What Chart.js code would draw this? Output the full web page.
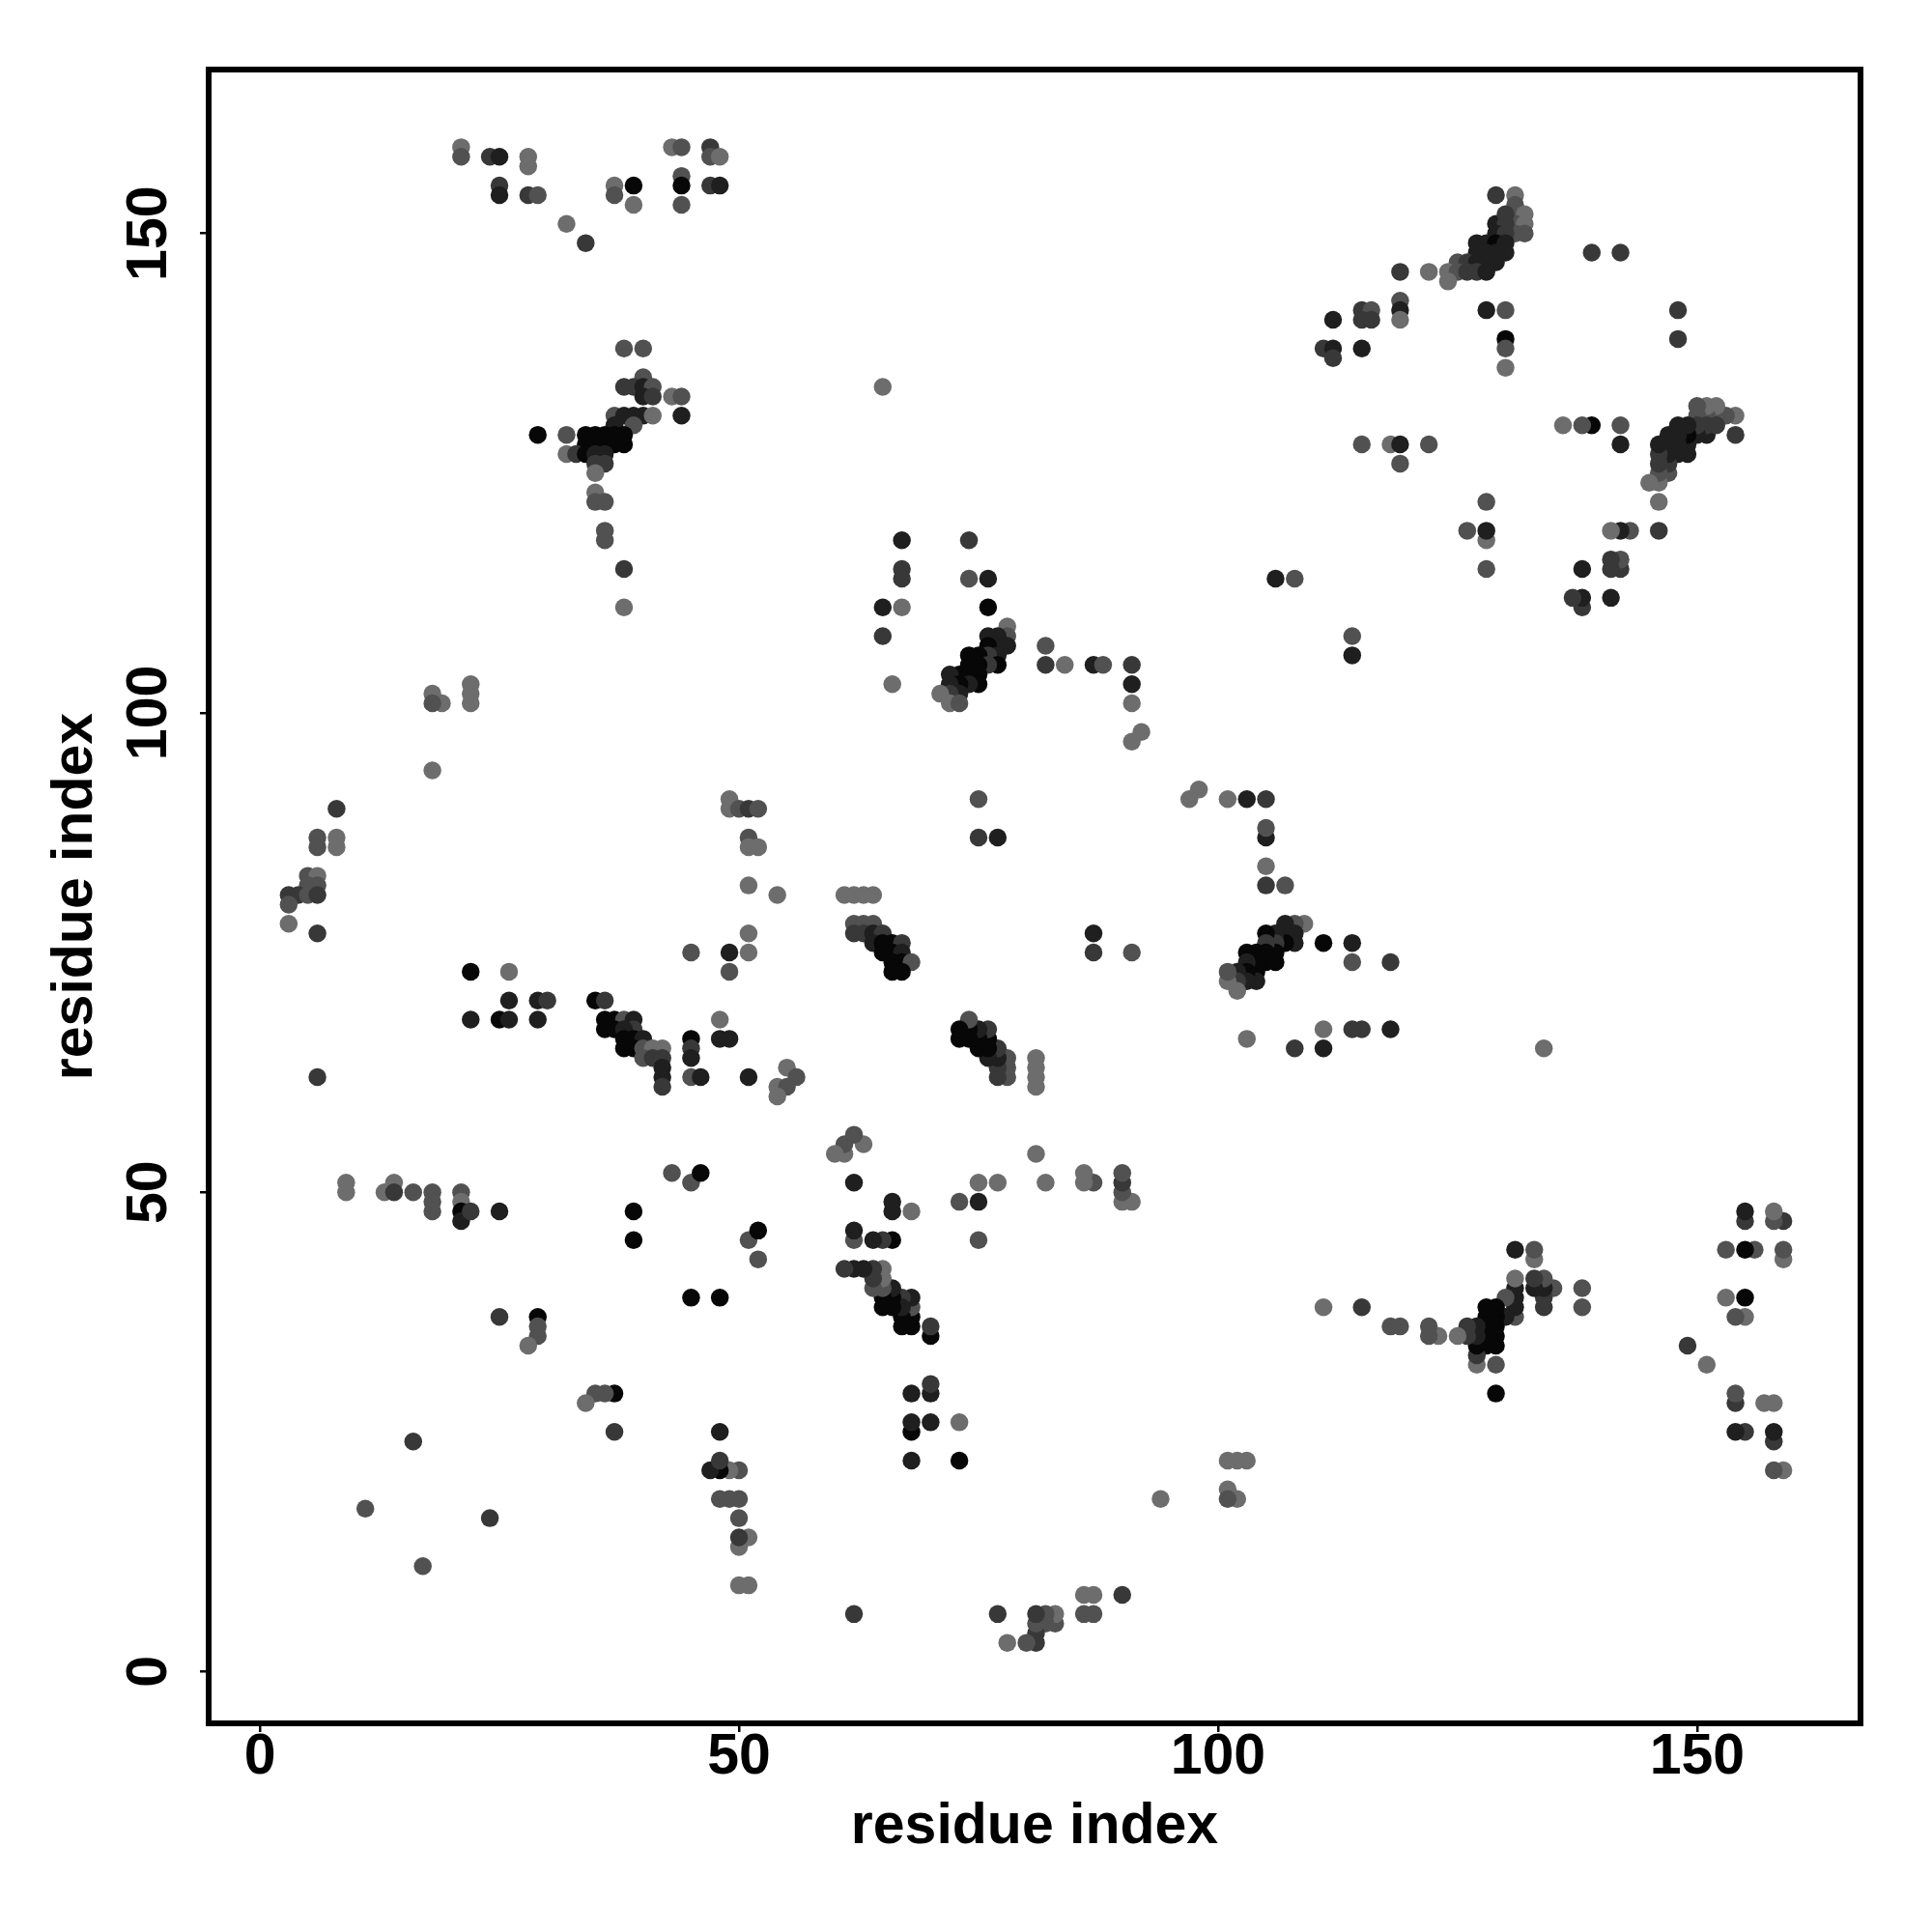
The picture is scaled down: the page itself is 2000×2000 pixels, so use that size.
<!DOCTYPE html>
<html>
<head>
<meta charset="utf-8">
<script src="https://cdn.jsdelivr.net/npm/chart.js@4.4.0/dist/chart.umd.min.js"></script>
<style>
  html, body { margin: 0; padding: 0; background: #fff; }
  canvas { display: block; }
</style>
</head>
<body>
<canvas id="contactChart" width="2000" height="2000"></canvas>
<script>
// axis ticks and title
const tickValues = [0, 50, 100, 150];
const axisTitle = 'residue index';

// contacts as [residue i, residue j, shade] with i < j
// shade: 0 = strongest (black) ... 4 = weakest (light grey)
const topRow = [
  [21,159,4],[21,158,3],[24,158,2],[25,158,1],[28,158,4],[28,157,4],[25,155,2],[25,154,1],
  [28,154,2],[29,154,3],[32,151,4],[34,149,2],[37,155,4],[37,154,3],[39,155,0],[39,153,4],
  [43,159,4],[44,159,3],[44,156,3],[44,155,0],[44,153,3],[47,159,2],[47,158,3],[48,158,4],
  [47,155,2],[48,155,1]
];

const sheet35x128 = [
  [38,138,3],[40,138,3],[40,135,3],[38,134,2],[39,134,2],[40,134,1],[41,134,3],[40,133,1],
  [41,133,2],[43,133,4],[44,133,3],[44,131,1],[37,131,3],[38,131,1],[39,131,1],[40,131,1],
  [41,131,4],[39,130,3],[37,130,1],[29,129,0],[32,129,3],[34,129,0],[35,129,0],[36,129,0],
  [37,129,0],[38,129,0],[34,128,0],[35,128,0],[36,128,0],[37,128,0],[38,128,0],[32,127,4],
  [33,127,2],[34,127,0],[35,127,1],[36,127,1],[35,126,2],[36,126,2],[35,125,4],[35,123,4],
  [35,122,3],[36,122,3],[36,119,3],[36,118,3],[38,115,2],[38,111,4]
];

const block65x115 = [
  [65,134,4],[67,118,1],[74,118,2],[67,115,2],[67,114,2],[74,114,3],[76,114,1],[65,111,1],
  [67,111,4],[76,111,0],[106,114,1],[108,114,3],[65,108,2],[66,103,4],[78,109,4]
];

const sheet75x105 = [
  [78,108,3],[77,108,1],[76,108,1],[78,107,1],[77,107,1],[76,107,0],[77,106,1],[76,106,2],
  [75,106,0],[74,106,0],[77,105,0],[76,105,2],[75,105,0],[74,105,0],[75,104,0],[74,104,0],
  [73,104,0],[72,104,1],[75,103,0],[74,103,1],[73,103,0],[72,103,1],[73,102,1],[72,102,2],
  [71,102,4],[72,101,4],[73,101,3]
];

const loop85x100 = [
  [82,107,3],[82,105,2],[84,105,4],[87,105,1],[88,105,3],[91,105,2],[91,103,1],[91,101,4],
  [91,97,4],[92,98,4],[75,91,3],[75,87,2],[77,87,1]
];

const sheet65x76 = [
  [54,81,4],[61,81,4],[62,81,4],[63,81,4],[64,81,4],
  [62,78,3],[63,78,3],[64,78,3],[62,77,2],[63,77,2],[64,77,1],[65,77,2],[64,76,1],
  [65,76,0],[66,76,0],[67,76,2],[65,75,0],[66,75,0],[67,75,1],[66,74,0],[67,74,0],
  [68,74,3],[66,73,0],[67,73,0],
  [55,63,4],[54,61,4],[55,61,3],[56,62,3],[54,60,4]
];

const leftEdge = [
  [18,102,4],[19,101,4],[18,101,3],[22,103,4],[22,102,4],[22,101,4],[18,94,4],[8,90,2],
  [6,87,3],[6,86,3],[8,87,4],[8,86,4],[5,83,3],[6,83,4],[5,82,3],[6,82,3],[3,81,2],
  [4,81,2],[5,81,3],[6,81,2],[3,80,3],[3,78,4],[6,77,2],[6,62,2]
];

const sheet38x66 = [
  [22,73,0],[26,73,4],[26,70,1],[29,70,1],[30,70,2],[22,68,1],[25,68,0],[26,68,1],[29,68,1],
  [35,70,0],[36,70,2],[36,68,0],[37,68,0],[38,68,3],[39,68,1],[39,67,2],[36,67,0],[37,67,0],
  [38,67,1],[38,66,0],[39,66,0],[40,66,1],[38,65,0],[39,65,0],[40,65,3],[41,65,4],[42,65,4],
  [40,64,3],[41,64,2],[42,64,2],[42,63,1],[42,62,1],[42,61,2],[45,66,0],[45,65,2],[45,64,1],
  [45,62,3],[46,62,1],[48,68,4],[48,66,1],[49,66,1],[51,62,1],[49,75,1],[51,75,4],[49,73,3],
  [45,75,3],[51,77,4],[51,82,4],[51,87,3],[51,86,4],[52,86,4],[49,91,4],[49,90,4],[50,90,3],
  [51,90,2],[52,90,3]
];

const lowerLeft = [
  [9,51,4],[9,50,4],[13,50,4],[14,51,4],[14,50,2],[16,50,3],[18,50,3],[18,49,3],[18,48,3],
  [21,50,3],[21,49,4],[21,48,0],[21,47,1],[22,48,2],[25,48,1],[39,48,0],[39,45,0],[43,52,3],
  [45,51,3],[46,52,0],[25,37,2],[29,37,0],[29,36,3],[29,35,3],[28,34,4],[16,24,2],[11,17,3]
];

const sheet127x148 = [
  [129,154,2],[131,154,4],[131,153,3],[131,152,3],[132,152,4],[131,151,3],[132,151,4],
  [131,150,3],[132,150,3],[129,151,1],[130,151,2],[130,152,2],[129,150,1],[130,150,2],
  [127,149,1],[128,149,1],[129,149,0],[130,149,1],[130,148,1],[127,148,1],[128,148,1],
  [129,148,1],[129,147,1],[125,147,3],[126,147,2],[127,147,1],[128,147,1],[124,146,4],
  [125,146,3],[126,146,2],[127,146,2],[128,146,1],[124,145,4],[119,146,2],[122,146,4],
  [119,143,3],[119,142,1],[119,141,4],[115,142,2],[116,142,3],[115,141,2],[116,141,2],
  [112,141,1],[111,138,2],[112,138,1],[115,138,1],[112,137,2],[128,142,1],[130,142,3],
  [130,139,0],[130,138,3],[130,136,4],[139,148,2],[142,148,2],[115,128,3],[118,128,4],
  [119,128,1],[122,128,3],[119,126,3]
];

const contacts = [].concat(topRow, sheet35x128, block65x115, sheet75x105, loop85x100,
  sheet65x76, leftEdge, sheet38x66, lowerLeft, sheet127x148);

const shadeColors = ['#070707', '#1f1f1f', '#383838', '#515151', '#6d6d6d'];

// the map is symmetric: draw every contact on both sides of the diagonal
const points = [];
const pointColors = [];
contacts.forEach(([i, j, s]) => {
  points.push({ x: i, y: j });
  pointColors.push(shadeColors[s]);
  points.push({ x: j, y: i });
  pointColors.push(shadeColors[s]);
});

const fontFamily = '"Liberation Sans", Arial, Helvetica, sans-serif';

// full box around the plot plus rotated y tick labels
const frameAndLabels = {
  id: 'frameAndLabels',
  afterDraw(chart) {
    const { ctx, chartArea: a, scales: { y } } = chart;
    ctx.save();
    ctx.strokeStyle = '#000';
    ctx.lineWidth = 6;
    ctx.strokeRect(a.left, a.top, a.right - a.left, a.bottom - a.top);

    ctx.fillStyle = '#000';
    ctx.font = 'bold 59px ' + fontFamily;
    ctx.textAlign = 'center';
    ctx.textBaseline = 'alphabetic';
    y.ticks.forEach(t => {
      const py = y.getPixelForValue(t.value);
      ctx.save();
      ctx.translate(172, py);
      ctx.rotate(-Math.PI / 2);
      ctx.fillText(String(t.value), 0, 0);
      ctx.restore();
    });
    ctx.restore();
  }
};

const ctx = document.getElementById('contactChart').getContext('2d');
new Chart(ctx, {
  type: 'scatter',
  data: {
    datasets: [{
      data: points,
      pointBackgroundColor: pointColors,
      pointBorderWidth: 0,
      pointRadius: 9.25,
      pointHoverRadius: 9.25
    }]
  },
  options: {
    responsive: false,
    animation: false,
    devicePixelRatio: 1,
    events: [],
    layout: { padding: { left: 0, top: 72, right: 74, bottom: 0 } },
    plugins: { legend: { display: false }, tooltip: { enabled: false } },
    scales: {
      x: {
        type: 'linear',
        min: -5.35,
        max: 167.05,
        afterBuildTicks: s => { s.ticks = tickValues.map(v => ({ value: v })); },
        afterFit: s => { s.height = 216; },
        border: { display: false },
        grid: { display: true, drawOnChartArea: false, drawTicks: true, tickLength: 9, color: '#000', lineWidth: 2.5 },
        ticks: {
          color: '#000',
          autoSkip: false,
          maxRotation: 0,
          padding: -3,
          font: { family: fontFamily, size: 59, weight: 'bold', lineHeight: 1 }
        },
        title: {
          display: true,
          text: axisTitle,
          color: '#000',
          font: { family: fontFamily, size: 59, weight: 'bold', lineHeight: 1 },
          padding: { top: 0, bottom: 79 }
        }
      },
      y: {
        type: 'linear',
        min: -5.4,
        max: 167.1,
        afterBuildTicks: s => { s.ticks = tickValues.map(v => ({ value: v })); },
        afterFit: s => { s.width = 216; },
        border: { display: false },
        grid: { display: true, drawOnChartArea: false, drawTicks: true, tickLength: 9, color: '#000', lineWidth: 2.5 },
        ticks: { display: false },
        title: {
          display: true,
          text: axisTitle,
          color: '#000',
          font: { family: fontFamily, size: 59, weight: 'bold', lineHeight: 1 },
          padding: { top: 49, bottom: 0 }
        }
      }
    }
  },
  plugins: [frameAndLabels]
});
</script>
</body>
</html>
